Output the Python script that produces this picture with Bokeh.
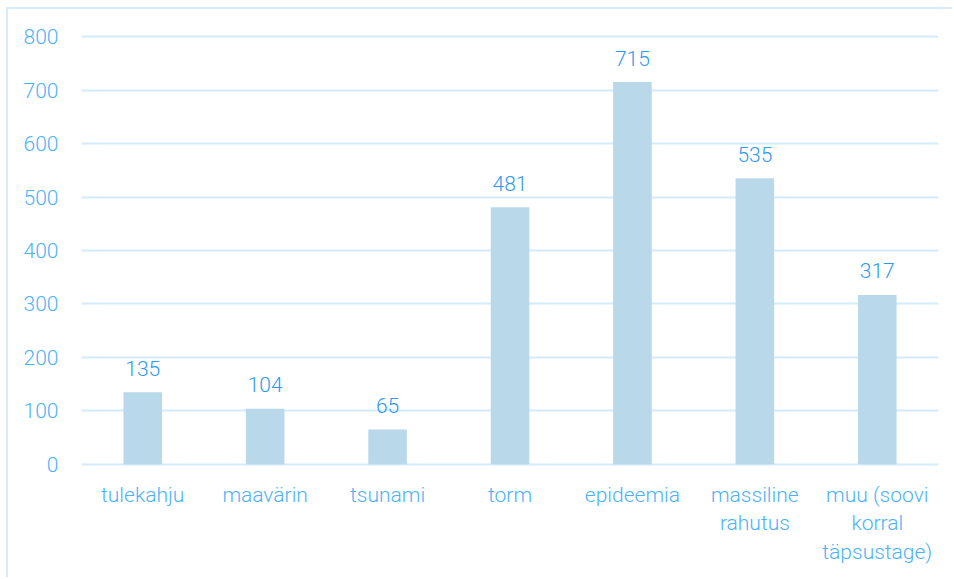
from bokeh.plotting import figure
from bokeh.models import Range1d, FactorRange, ColumnDataSource, FixedTicker
from bokeh.core.properties import value
from bokeh.embed import file_html
from bokeh.resources import INLINE

categories = ["tulekahju", "maavärin", "tsunami", "torm", "epideemia",
              "massiline\nrahutus", "muu (soovi\nkorral\ntäpsustage)"]
counts = [135, 104, 65, 481, 715, 535, 317]
y_ticks = [0, 100, 200, 300, 400, 500, 600, 700, 800]

FONT = "Roboto Light"
TICK_COLOR = "#4cb2f8"
VALUE_COLOR = "#2d98ef"
BAR_COLOR = "#b9d8ea"
GRID_COLOR = "#d3ebfb"

src = ColumnDataSource(dict(cat=categories, n=counts, lbl=[str(v) for v in counts]))

p = figure(width=946, height=570, output_backend="svg", toolbar_location=None,
           x_range=FactorRange(*categories, range_padding=0),
           y_range=Range1d(-4, 804),
           min_border_left=73, min_border_right=16, min_border_top=25, min_border_bottom=113)
p.styles = {"border-left": "2px solid #d6ecfb", "border-top": "2px solid #d6ecfb",
            "margin-left": "6px", "margin-top": "7px"}
p.outline_line_color = None
p.background_fill_color = "white"
p.border_fill_color = "white"

p.vbar(x="cat", top="n", bottom=0, width=0.315, source=src,
       fill_color=BAR_COLOR, line_color=None)
p.text(x="cat", y="n", text="lbl", source=src, y_offset=-24,
       text_align="center", text_baseline="middle",
       text_font=value(FONT), text_font_size="21px", text_color=VALUE_COLOR)

p.yaxis.ticker = FixedTicker(ticks=y_ticks)
p.ygrid.ticker = FixedTicker(ticks=y_ticks)
p.ygrid.grid_line_color = GRID_COLOR
p.ygrid.grid_line_width = 2
p.xgrid.grid_line_color = None

for ax in (p.xaxis, p.yaxis):
    ax.axis_line_color = None
    ax.major_tick_line_color = None
    ax.minor_tick_line_color = None
    ax.major_tick_out = 0
    ax.major_tick_in = 0
    ax.minor_tick_out = 0
    ax.major_label_text_font = FONT
    ax.major_label_text_font_size = "21px"
    ax.major_label_text_color = TICK_COLOR
p.yaxis.major_label_standoff = 23
p.xaxis.major_label_standoff = 16

open("out.html", "w").write(file_html(p, INLINE))
